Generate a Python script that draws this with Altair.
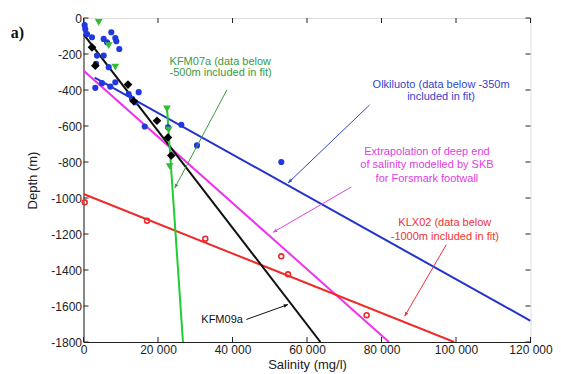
import math
import altair as alt
import pandas as pd

# ---------------- data ----------------
# Olkiluoto (blue dots)
olk_sal = [300, 480, 940, 2280, 5420, 7460, 8540, 8810, 6310, 9610, 3620, 5420, 3360,
           6770, 8540, 4970, 3170, 7190, 12130, 13020, 14820, 13910, 16430, 22680,
           26260, 30470, 53100]
olk_dep = [-40, -61, -89, -107, -116, -79, -111, -129, -135, -172, -209, -209, -255,
           -273, -357, -362, -388, -381, -422, -449, -412, -468, -603, -607,
           -593, -708, -800]
# KFM09a (black diamonds)
k09_sal = [2280, 3170, 11950, 13480, 19730, 22680, 23570]
k09_dep = [-163, -265, -370, -462, -571, -664, -764]
# KFM07a (green triangles)
k07_sal = [4080, 6770, 8540, 22400, 22870, 23140]
k07_dep = [-24, -153, -273, -505, -621, -825]
# KLX02 (red open circles)
klx_sal = [320, 17050, 32700, 53100, 54900, 76000]
klx_dep = [-1024, -1126, -1226, -1324, -1424, -1651]

# fitted lines (end points)
olk_fit_sal, olk_fit_dep = [3000, 120000], [-331, -1682]
k07_fit_sal, k07_fit_dep = [22400, 26700], [-495, -1800]
k09_fit_sal, k09_fit_dep = [0, 63600], [-90, -1800]
klx_fit_sal, klx_fit_dep = [0, 99500], [-978, -1800]
skb_fit_sal, skb_fit_dep = [0, 82000], [-292, -1800]

# annotation arrows: start -> tip
arr_s_sal = [38500, 76800, 71900, 97400, 43700]
arr_s_dep = [-399, -483, -939, -1259, -1675]
arr_t_sal = [24480, 54900, 50870, 86200, 54900]
arr_t_dep = [-945, -917, -1191, -1657, -1592]
arr_col = ["#3a9a44", "#3344cc", "#e040e0", "#ee3333", "#111111"]

# annotation texts
txt_lines = ["KFM07a (data below", "-500m included in fit)",
             "Olkiluoto (data below -350m", "included in fit)",
             "Extrapolation of deep end", "of salinity modelled by SKB", "for Forsmark footwall",
             "KLX02 (data below", "-1000m included in fit)",
             "KFM09a"]
txt_sal = [23100, 23100, 96000, 96000, 92200, 92200, 92200, 97000, 97000, 37200]
txt_dep = [-242, -307, -372, -441, -743, -818, -893, -1137, -1215, -1675]
txt_align = ["left", "left", "center", "center", "center", "center", "center",
             "center", "center", "center"]
txt_col = ["#3a9a44", "#3a9a44", "#3344cc", "#3344cc", "#e040e0", "#e040e0", "#e040e0",
           "#ee3333", "#ee3333", "#111111"]

x_ticks = [0, 20000, 40000, 60000, 80000, 100000, 120000]
y_ticks = [0, -200, -400, -600, -800, -1000, -1200, -1400, -1600, -1800]

# ---------------- chart ----------------
W, H = 447, 324
FONT = "Liberation Sans"
SX = W / 120000.0
SY = H / 1800.0

xs = alt.Scale(domain=[0, 120000], nice=False, zero=False)
ys = alt.Scale(domain=[-1800, 0], nice=False, zero=False)
X = alt.X("s:Q", scale=xs, axis=alt.Axis(
    values=x_ticks, title="Salinity (mg/l)", grid=False, ticks=False,
    labelExpr="datum.value == 0 ? '0' : replace(format(datum.value, ','), ',', ' ')",
    labelFont=FONT, titleFont=FONT, labelFontSize=12, titleFontSize=13,
    titleFontWeight="normal", labelColor="#222", titleColor="#222",
    labelPadding=2, titlePadding=3, domainColor="#222", labelFlush=False))
Y = alt.Y("d:Q", scale=ys, axis=alt.Axis(
    values=y_ticks, title="Depth (m)", grid=False, ticks=False,
    labelExpr="'' + datum.value",
    labelFont=FONT, titleFont=FONT, labelFontSize=12, titleFontSize=13,
    titleFontWeight="normal", labelColor="#222", titleColor="#222",
    labelPadding=2, titlePadding=11, domainColor="#222", labelFlush=False))


def pts(sal, dep):
    return pd.DataFrame({"s": sal, "d": dep})


layers = []

# inward ticks on all four sides
xt = pd.DataFrame({"s": x_ticks})
yt = pd.DataFrame({"d": y_ticks})
TL = 5
layers.append(alt.Chart(xt).mark_rule(color="#222", strokeWidth=1).encode(
    x=X, y=alt.value(H - TL), y2=alt.value(H)))
layers.append(alt.Chart(xt).mark_rule(color="#222", strokeWidth=1).encode(
    x=X, y=alt.value(0), y2=alt.value(TL)))
layers.append(alt.Chart(yt).mark_rule(color="#222", strokeWidth=1).encode(
    y=Y, x=alt.value(0), x2=alt.value(TL)))
layers.append(alt.Chart(yt).mark_rule(color="#222", strokeWidth=1).encode(
    y=Y, x=alt.value(W - TL), x2=alt.value(W)))

# fit lines
for sal, dep, col in [
    (olk_fit_sal, olk_fit_dep, "#2233cc"),
    (skb_fit_sal, skb_fit_dep, "#ee33ee"),
    (klx_fit_sal, klx_fit_dep, "#ee2a2a"),
    (k09_fit_sal, k09_fit_dep, "#111111"),
    (k07_fit_sal, k07_fit_dep, "#22cc33"),
]:
    layers.append(alt.Chart(pts(sal, dep)).mark_line(color=col, strokeWidth=2, clip=True).encode(
        x=X, y=Y, order="s:Q"))

# data points
layers.append(alt.Chart(pts(olk_sal, olk_dep)).mark_point(
    shape="circle", filled=True, color="#2038dd", size=38, opacity=1).encode(x=X, y=Y))
layers.append(alt.Chart(pts(k09_sal, k09_dep)).mark_point(
    shape="diamond", filled=True, color="#000000", size=75, opacity=1).encode(x=X, y=Y))
layers.append(alt.Chart(pts(k07_sal, k07_dep)).mark_point(
    shape="triangle-down", filled=True, color="#33bb33", size=60, opacity=1).encode(x=X, y=Y))
layers.append(alt.Chart(pts(klx_sal, klx_dep)).mark_point(
    shape="circle", filled=False, color="#ee2a2a", size=24, strokeWidth=1.6, opacity=1).encode(x=X, y=Y))

# annotation arrows
ang = []
for a, b, c, d in zip(arr_s_sal, arr_s_dep, arr_t_sal, arr_t_dep):
    dx = (c - a) * SX
    dy = -(d - b) * SY
    ang.append(math.degrees(math.atan2(dx, -dy)) % 360)
arr = pd.DataFrame({"s": arr_s_sal, "d": arr_s_dep, "s2": arr_t_sal, "d2": arr_t_dep,
                    "col": arr_col, "ang": ang})
layers.append(alt.Chart(arr).mark_rule(strokeWidth=1).encode(
    x=X, y=Y, x2="s2:Q", y2="d2:Q", color=alt.Color("col:N", scale=None)))
heads = pd.DataFrame({"s": arr_t_sal, "d": arr_t_dep, "col": arr_col, "ang": ang})
layers.append(alt.Chart(heads).mark_point(
    shape="M-0.45,1.1L0,0L0.45,1.1Z", filled=True, size=60, opacity=1, strokeWidth=1).encode(
    x=X, y=Y, angle=alt.Angle("ang:Q", scale=None),
    color=alt.Color("col:N", scale=None)))

# annotation texts
txt = pd.DataFrame({"s": txt_sal, "d": txt_dep, "t": txt_lines, "al": txt_align, "col": txt_col})
for al in ["left", "center"]:
    layers.append(alt.Chart(txt[txt.al == al]).mark_text(
        align=al, baseline="middle", font=FONT, fontSize=11).encode(
        x=X, y=Y, text="t:N", color=alt.Color("col:N", scale=None)))

# panel label
layers.append(alt.Chart(pd.DataFrame({"t": ["a)"]})).mark_text(
    align="center", baseline="middle", font="Liberation Serif", fontSize=16,
    fontWeight="bold", color="#111").encode(
    x=alt.value(-66), y=alt.value(15), text="t:N"))

chart = alt.layer(*layers).properties(
    width=W, height=H,
    autosize=alt.AutoSizeParams(type="none"),
    padding={"left": 75.5, "top": 10, "right": 22.5, "bottom": 31},
).configure_view(stroke="#222", strokeWidth=1).configure(background="white")

chart.save("out.html", embed_options={"renderer": "svg", "actions": False})
